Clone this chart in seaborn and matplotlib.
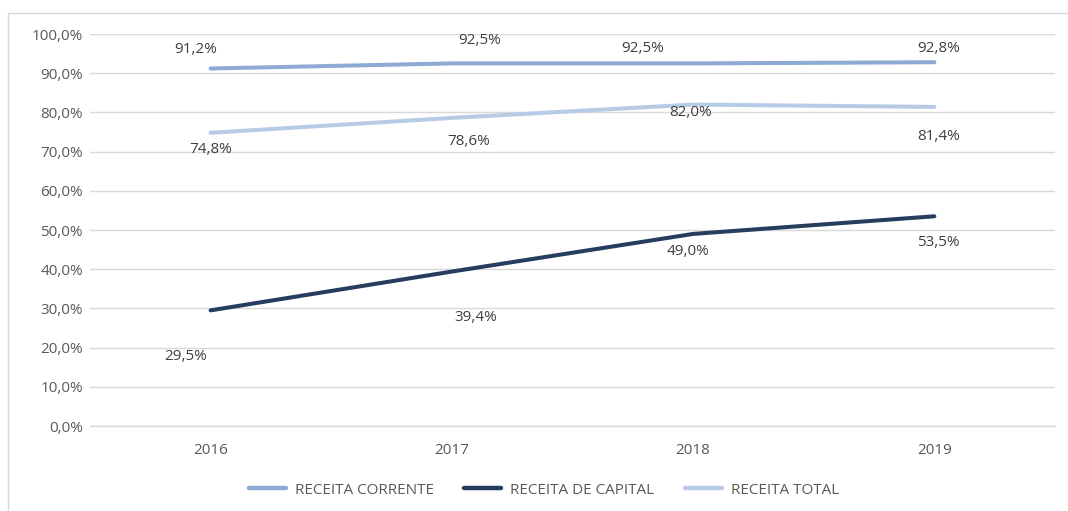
import pandas as pd
import matplotlib.pyplot as plt
import seaborn as sns
from matplotlib.patches import Rectangle

# dados
anos = ['2016', '2017', '2018', '2019']
corrente = [91.2, 92.5, 92.5, 92.8]
capital = [29.5, 39.4, 49.0, 53.5]
total = [74.8, 78.6, 82.0, 81.4]
series = ['RECEITA CORRENTE', 'RECEITA DE CAPITAL', 'RECEITA TOTAL']

# deslocamento dos rótulos (pixels) - (dx, dy)
off_corrente = [(-15, 19), (28, 23), (-51, 15), (4, 14)]
off_capital = [(-25, -46), (24, -46), (-5, -18), (4, -26)]
off_total = [(0, -17), (17, -24), (-3, -8), (4, -30)]

cores = ['#8EA9D3', '#263D5E', '#B7CBE6']

df = pd.DataFrame({
    'ano': anos * 3,
    'valor': corrente + capital + total,
    'serie': [series[0]] * 4 + [series[1]] * 4 + [series[2]] * 4,
})

sns.set_style('white')
plt.rcParams['font.family'] = ['Open Sans', 'DejaVu Sans']

fig = plt.figure(figsize=(10.68, 5.11), dpi=100)
ax = fig.add_axes([90 / 1068, 85 / 511, 965 / 1068, 392 / 511])

ax.axhline(0, color='#D9D9D9', linewidth=1, clip_on=False, zorder=0)

sns.lineplot(data=df, x='ano', y='valor', hue='serie', hue_order=series,
             palette=cores, linewidth=2.9, sort=False, ax=ax,
             solid_capstyle='round')

for vals, offs in [(corrente, off_corrente), (capital, off_capital), (total, off_total)]:
    for i, (v, o) in enumerate(zip(vals, offs)):
        ax.annotate(f'{v:.1f}%'.replace('.', ','), (i, v), xytext=o,
                    textcoords='offset pixels', ha='center', va='center',
                    fontsize=11, color='#404040')

ax.set_ylim(0, 100)
ax.set_xlim(-0.5, 3.5)
ax.set_yticks(range(0, 101, 10))
ax.set_yticklabels([f'{t},0%' for t in range(0, 101, 10)])
ax.grid(axis='y', color='#D9D9D9', linewidth=1)
ax.grid(axis='x', visible=False)
for s in ax.spines.values():
    s.set_visible(False)
ax.tick_params(axis='both', length=0, labelsize=11, labelcolor='#595959')
ax.tick_params(axis='x', pad=12)
ax.tick_params(axis='y', pad=5)
ax.set_xlabel('')
ax.set_ylabel('')

leg = ax.legend(loc='center', bbox_to_anchor=((544 - 90) / 965, (490 - 426) / -392), ncol=3,
                frameon=False, fontsize=11, handlelength=2.4,
                handletextpad=0.6, columnspacing=2.0)
for t in leg.get_texts():
    t.set_color('#595959')
for h in leg.get_lines():
    h.set_linewidth(3.2)

fig.patches.append(Rectangle((8 / 1068, -0.1), 1.2, 1 - 13 / 511 + 0.1,
                             transform=fig.transFigure, fill=False,
                             edgecolor='#D9D9D9', linewidth=1))

fig.savefig('out.png', dpi=100)
